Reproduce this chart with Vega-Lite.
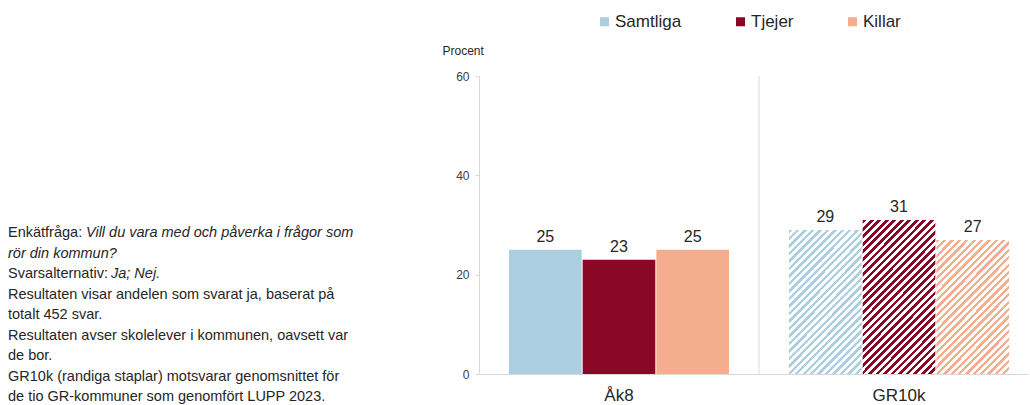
{
  "$schema": "https://vega.github.io/schema/vega-lite/v6.json",
  "background": "white",
  "padding": {"left": 8, "top": 13, "right": 0, "bottom": 0},
  "bounds": "flush",
  "spacing": 171,
  "config": {"view": {"stroke": null}, "font": "Liberation Sans"},
  "hconcat": [
    {
      "width": 300,
      "height": 298,
      "data": {"values": [
        {"rad": 1, "normal": "Enkätfråga:", "kursiv": "Vill du vara med och påverka i frågor som"},
        {"rad": 2, "normal": "", "kursiv": "rör din kommun?"},
        {"rad": 3, "normal": "Svarsalternativ:", "kursiv": "Ja; Nej."},
        {"rad": 4, "normal": "Resultaten visar andelen som svarat ja, baserat på", "kursiv": ""},
        {"rad": 5, "normal": "totalt 452 svar.", "kursiv": ""},
        {"rad": 6, "normal": "Resultaten avser skolelever i kommunen, oavsett var", "kursiv": ""},
        {"rad": 7, "normal": "de bor.", "kursiv": ""},
        {"rad": 8, "normal": "GR10k (randiga staplar) motsvarar genomsnittet för", "kursiv": ""},
        {"rad": 9, "normal": "de tio GR-kommuner som genomfört LUPP 2023.", "kursiv": ""}
      ]},
      "encoding": {
        "x": {"datum": 0, "type": "quantitative", "scale": {"domain": [0, 1]}, "axis": null},
        "y": {"field": "rad", "type": "ordinal", "scale": {"type": "point", "padding": 0, "range": [157, 321]}, "axis": null}
      },
      "layer": [
        {"mark": {"type": "text", "align": "left", "baseline": "middle", "fontSize": 14.5, "color": "#262626"},
         "encoding": {"text": {"field": "normal"}}},
        {"transform": [{"filter": "datum.rad === 1"}],
         "mark": {"type": "text", "align": "left", "baseline": "middle", "fontSize": 14.5, "fontStyle": "italic", "color": "#262626", "dx": 78},
         "encoding": {"text": {"field": "kursiv"}}},
        {"transform": [{"filter": "datum.rad === 2"}],
         "mark": {"type": "text", "align": "left", "baseline": "middle", "fontSize": 14.5, "fontStyle": "italic", "color": "#262626"},
         "encoding": {"text": {"field": "kursiv"}}},
        {"transform": [{"filter": "datum.rad === 3"}],
         "mark": {"type": "text", "align": "left", "baseline": "middle", "fontSize": 14.5, "fontStyle": "italic", "color": "#262626", "dx": 103},
         "encoding": {"text": {"field": "kursiv"}}}
      ]
    },
    {
      "width": 550,
      "height": 298,
      "data": {"values": [
        {"grupp": "Åk8", "serie": "Samtliga", "procent": 25},
        {"grupp": "Åk8", "serie": "Tjejer", "procent": 23},
        {"grupp": "Åk8", "serie": "Killar", "procent": 25},
        {"grupp": "GR10k", "serie": "Samtliga", "procent": 29},
        {"grupp": "GR10k", "serie": "Tjejer", "procent": 31},
        {"grupp": "GR10k", "serie": "Killar", "procent": 27}
      ]},
      "encoding": {
        "x": {"field": "grupp", "type": "nominal", "sort": ["Åk8", "GR10k"],
              "scale": {"paddingInner": 0.2143, "paddingOuter": 0.0893, "align": 0.6},
              "axis": {"title": null, "labelAngle": 0, "ticks": false, "tickSize": 0, "labelPadding": 13, "labelFontSize": 17, "labelColor": "#262626", "domainColor": "#d9d9d9", "grid": false}},
        "y": {"field": "procent", "type": "quantitative", "scale": {"domain": [0, 60], "nice": false},
              "axis": {"values": [0, 20, 40, 60], "title": "Procent", "titleAngle": 0, "titleAlign": "left", "titleBaseline": "middle", "titleX": -37, "titleY": -26, "titleFontSize": 12, "titleFontWeight": "normal", "titleColor": "#262626", "labelFontSize": 12, "labelColor": "#404040", "labelPadding": 6, "tickSize": 4, "tickColor": "#d9d9d9", "domainColor": "#d9d9d9", "grid": false}}
      },
      "layer": [
        {"transform": [{"filter": "datum.grupp === 'GR10k' && datum.serie === 'Samtliga'"}],
         "mark": {"type": "rule", "color": "#d9d9d9", "strokeWidth": 1, "xOffset": -30},
         "encoding": {"x": {"field": "grupp", "type": "nominal", "sort": ["Åk8", "GR10k"], "bandPosition": 0}, "y": {"datum": 60}, "y2": {"datum": 0}}},
        {"transform": [{"filter": "datum.grupp === 'Åk8'"}],
         "mark": {"type": "bar"},
         "encoding": {
           "xOffset": {"field": "serie", "type": "nominal", "sort": ["Samtliga", "Tjejer", "Killar"], "scale": {"paddingInner": 0.0137}},
           "color": {"field": "serie", "type": "nominal", "scale": {"domain": ["Samtliga", "Tjejer", "Killar"], "range": ["#abcfe1", "#8b0726", "#f5ad8f"]},
                     "legend": {"orient": "none", "legendX": 588, "legendY": -63, "direction": "horizontal", "title": null, "symbolType": "square", "symbolSize": 81, "symbolStrokeWidth": 0, "labelFontSize": 17, "labelColor": "#262626", "columnPadding": 50, "labelOffset": 2, "padding": 0}}
         }},
        {"transform": [{"filter": "datum.grupp === 'GR10k' && datum.serie === 'Samtliga'"}],
         "mark": {"type": "bar", "fill": {"gradient": "linear", "x1": 0, "y1": 0, "x2": 0.6078, "y2": 1.1989, "stops": [
{"offset":0,"color":"#abcfe1"},{"offset":0.0155,"color":"#abcfe1"},{"offset":0.0155,"color":"#ffffff"},{"offset":0.0345,"color":"#ffffff"},
{"offset":0.0345,"color":"#abcfe1"},{"offset":0.05,"color":"#abcfe1"},{"offset":0.05,"color":"#ffffff"},{"offset":0.069,"color":"#ffffff"},
{"offset":0.069,"color":"#abcfe1"},{"offset":0.0845,"color":"#abcfe1"},{"offset":0.0845,"color":"#ffffff"},{"offset":0.1034,"color":"#ffffff"},
{"offset":0.1034,"color":"#abcfe1"},{"offset":0.119,"color":"#abcfe1"},{"offset":0.119,"color":"#ffffff"},{"offset":0.1379,"color":"#ffffff"},
{"offset":0.1379,"color":"#abcfe1"},{"offset":0.1534,"color":"#abcfe1"},{"offset":0.1534,"color":"#ffffff"},{"offset":0.1724,"color":"#ffffff"},
{"offset":0.1724,"color":"#abcfe1"},{"offset":0.1879,"color":"#abcfe1"},{"offset":0.1879,"color":"#ffffff"},{"offset":0.2069,"color":"#ffffff"},
{"offset":0.2069,"color":"#abcfe1"},{"offset":0.2224,"color":"#abcfe1"},{"offset":0.2224,"color":"#ffffff"},{"offset":0.2414,"color":"#ffffff"},
{"offset":0.2414,"color":"#abcfe1"},{"offset":0.2569,"color":"#abcfe1"},{"offset":0.2569,"color":"#ffffff"},{"offset":0.2759,"color":"#ffffff"},
{"offset":0.2759,"color":"#abcfe1"},{"offset":0.2914,"color":"#abcfe1"},{"offset":0.2914,"color":"#ffffff"},{"offset":0.3103,"color":"#ffffff"},
{"offset":0.3103,"color":"#abcfe1"},{"offset":0.3259,"color":"#abcfe1"},{"offset":0.3259,"color":"#ffffff"},{"offset":0.3448,"color":"#ffffff"},
{"offset":0.3448,"color":"#abcfe1"},{"offset":0.3603,"color":"#abcfe1"},{"offset":0.3603,"color":"#ffffff"},{"offset":0.3793,"color":"#ffffff"},
{"offset":0.3793,"color":"#abcfe1"},{"offset":0.3948,"color":"#abcfe1"},{"offset":0.3948,"color":"#ffffff"},{"offset":0.4138,"color":"#ffffff"},
{"offset":0.4138,"color":"#abcfe1"},{"offset":0.4293,"color":"#abcfe1"},{"offset":0.4293,"color":"#ffffff"},{"offset":0.4483,"color":"#ffffff"},
{"offset":0.4483,"color":"#abcfe1"},{"offset":0.4638,"color":"#abcfe1"},{"offset":0.4638,"color":"#ffffff"},{"offset":0.4828,"color":"#ffffff"},
{"offset":0.4828,"color":"#abcfe1"},{"offset":0.4983,"color":"#abcfe1"},{"offset":0.4983,"color":"#ffffff"},{"offset":0.5172,"color":"#ffffff"},
{"offset":0.5172,"color":"#abcfe1"},{"offset":0.5328,"color":"#abcfe1"},{"offset":0.5328,"color":"#ffffff"},{"offset":0.5517,"color":"#ffffff"},
{"offset":0.5517,"color":"#abcfe1"},{"offset":0.5672,"color":"#abcfe1"},{"offset":0.5672,"color":"#ffffff"},{"offset":0.5862,"color":"#ffffff"},
{"offset":0.5862,"color":"#abcfe1"},{"offset":0.6017,"color":"#abcfe1"},{"offset":0.6017,"color":"#ffffff"},{"offset":0.6207,"color":"#ffffff"},
{"offset":0.6207,"color":"#abcfe1"},{"offset":0.6362,"color":"#abcfe1"},{"offset":0.6362,"color":"#ffffff"},{"offset":0.6552,"color":"#ffffff"},
{"offset":0.6552,"color":"#abcfe1"},{"offset":0.6707,"color":"#abcfe1"},{"offset":0.6707,"color":"#ffffff"},{"offset":0.6897,"color":"#ffffff"},
{"offset":0.6897,"color":"#abcfe1"},{"offset":0.7052,"color":"#abcfe1"},{"offset":0.7052,"color":"#ffffff"},{"offset":0.7241,"color":"#ffffff"},
{"offset":0.7241,"color":"#abcfe1"},{"offset":0.7397,"color":"#abcfe1"},{"offset":0.7397,"color":"#ffffff"},{"offset":0.7586,"color":"#ffffff"},
{"offset":0.7586,"color":"#abcfe1"},{"offset":0.7741,"color":"#abcfe1"},{"offset":0.7741,"color":"#ffffff"},{"offset":0.7931,"color":"#ffffff"},
{"offset":0.7931,"color":"#abcfe1"},{"offset":0.8086,"color":"#abcfe1"},{"offset":0.8086,"color":"#ffffff"},{"offset":0.8276,"color":"#ffffff"},
{"offset":0.8276,"color":"#abcfe1"},{"offset":0.8431,"color":"#abcfe1"},{"offset":0.8431,"color":"#ffffff"},{"offset":0.8621,"color":"#ffffff"},
{"offset":0.8621,"color":"#abcfe1"},{"offset":0.8776,"color":"#abcfe1"},{"offset":0.8776,"color":"#ffffff"},{"offset":0.8966,"color":"#ffffff"},
{"offset":0.8966,"color":"#abcfe1"},{"offset":0.9121,"color":"#abcfe1"},{"offset":0.9121,"color":"#ffffff"},{"offset":0.931,"color":"#ffffff"},
{"offset":0.931,"color":"#abcfe1"},{"offset":0.9466,"color":"#abcfe1"},{"offset":0.9466,"color":"#ffffff"},{"offset":0.9655,"color":"#ffffff"},
{"offset":0.9655,"color":"#abcfe1"},{"offset":0.981,"color":"#abcfe1"},{"offset":0.981,"color":"#ffffff"},{"offset":1,"color":"#ffffff"}
         ]}},
         "encoding": {"xOffset": {"field": "serie", "type": "nominal", "sort": ["Samtliga", "Tjejer", "Killar"], "scale": {"paddingInner": 0.0137}}}},
        {"transform": [{"filter": "datum.grupp === 'GR10k' && datum.serie === 'Tjejer'"}],
         "mark": {"type": "bar", "fill": {"gradient": "linear", "x1": 0, "y1": 0, "x2": 0.5705, "y2": 1.2036, "stops": [
{"offset":0,"color":"#8b0726"},{"offset":0.0167,"color":"#8b0726"},{"offset":0.0167,"color":"#ffffff"},{"offset":0.0333,"color":"#ffffff"},
{"offset":0.0333,"color":"#8b0726"},{"offset":0.05,"color":"#8b0726"},{"offset":0.05,"color":"#ffffff"},{"offset":0.0667,"color":"#ffffff"},
{"offset":0.0667,"color":"#8b0726"},{"offset":0.0833,"color":"#8b0726"},{"offset":0.0833,"color":"#ffffff"},{"offset":0.1,"color":"#ffffff"},
{"offset":0.1,"color":"#8b0726"},{"offset":0.1167,"color":"#8b0726"},{"offset":0.1167,"color":"#ffffff"},{"offset":0.1333,"color":"#ffffff"},
{"offset":0.1333,"color":"#8b0726"},{"offset":0.15,"color":"#8b0726"},{"offset":0.15,"color":"#ffffff"},{"offset":0.1667,"color":"#ffffff"},
{"offset":0.1667,"color":"#8b0726"},{"offset":0.1833,"color":"#8b0726"},{"offset":0.1833,"color":"#ffffff"},{"offset":0.2,"color":"#ffffff"},
{"offset":0.2,"color":"#8b0726"},{"offset":0.2167,"color":"#8b0726"},{"offset":0.2167,"color":"#ffffff"},{"offset":0.2333,"color":"#ffffff"},
{"offset":0.2333,"color":"#8b0726"},{"offset":0.25,"color":"#8b0726"},{"offset":0.25,"color":"#ffffff"},{"offset":0.2667,"color":"#ffffff"},
{"offset":0.2667,"color":"#8b0726"},{"offset":0.2833,"color":"#8b0726"},{"offset":0.2833,"color":"#ffffff"},{"offset":0.3,"color":"#ffffff"},
{"offset":0.3,"color":"#8b0726"},{"offset":0.3167,"color":"#8b0726"},{"offset":0.3167,"color":"#ffffff"},{"offset":0.3333,"color":"#ffffff"},
{"offset":0.3333,"color":"#8b0726"},{"offset":0.35,"color":"#8b0726"},{"offset":0.35,"color":"#ffffff"},{"offset":0.3667,"color":"#ffffff"},
{"offset":0.3667,"color":"#8b0726"},{"offset":0.3833,"color":"#8b0726"},{"offset":0.3833,"color":"#ffffff"},{"offset":0.4,"color":"#ffffff"},
{"offset":0.4,"color":"#8b0726"},{"offset":0.4167,"color":"#8b0726"},{"offset":0.4167,"color":"#ffffff"},{"offset":0.4333,"color":"#ffffff"},
{"offset":0.4333,"color":"#8b0726"},{"offset":0.45,"color":"#8b0726"},{"offset":0.45,"color":"#ffffff"},{"offset":0.4667,"color":"#ffffff"},
{"offset":0.4667,"color":"#8b0726"},{"offset":0.4833,"color":"#8b0726"},{"offset":0.4833,"color":"#ffffff"},{"offset":0.5,"color":"#ffffff"},
{"offset":0.5,"color":"#8b0726"},{"offset":0.5167,"color":"#8b0726"},{"offset":0.5167,"color":"#ffffff"},{"offset":0.5333,"color":"#ffffff"},
{"offset":0.5333,"color":"#8b0726"},{"offset":0.55,"color":"#8b0726"},{"offset":0.55,"color":"#ffffff"},{"offset":0.5667,"color":"#ffffff"},
{"offset":0.5667,"color":"#8b0726"},{"offset":0.5833,"color":"#8b0726"},{"offset":0.5833,"color":"#ffffff"},{"offset":0.6,"color":"#ffffff"},
{"offset":0.6,"color":"#8b0726"},{"offset":0.6167,"color":"#8b0726"},{"offset":0.6167,"color":"#ffffff"},{"offset":0.6333,"color":"#ffffff"},
{"offset":0.6333,"color":"#8b0726"},{"offset":0.65,"color":"#8b0726"},{"offset":0.65,"color":"#ffffff"},{"offset":0.6667,"color":"#ffffff"},
{"offset":0.6667,"color":"#8b0726"},{"offset":0.6833,"color":"#8b0726"},{"offset":0.6833,"color":"#ffffff"},{"offset":0.7,"color":"#ffffff"},
{"offset":0.7,"color":"#8b0726"},{"offset":0.7167,"color":"#8b0726"},{"offset":0.7167,"color":"#ffffff"},{"offset":0.7333,"color":"#ffffff"},
{"offset":0.7333,"color":"#8b0726"},{"offset":0.75,"color":"#8b0726"},{"offset":0.75,"color":"#ffffff"},{"offset":0.7667,"color":"#ffffff"},
{"offset":0.7667,"color":"#8b0726"},{"offset":0.7833,"color":"#8b0726"},{"offset":0.7833,"color":"#ffffff"},{"offset":0.8,"color":"#ffffff"},
{"offset":0.8,"color":"#8b0726"},{"offset":0.8167,"color":"#8b0726"},{"offset":0.8167,"color":"#ffffff"},{"offset":0.8333,"color":"#ffffff"},
{"offset":0.8333,"color":"#8b0726"},{"offset":0.85,"color":"#8b0726"},{"offset":0.85,"color":"#ffffff"},{"offset":0.8667,"color":"#ffffff"},
{"offset":0.8667,"color":"#8b0726"},{"offset":0.8833,"color":"#8b0726"},{"offset":0.8833,"color":"#ffffff"},{"offset":0.9,"color":"#ffffff"},
{"offset":0.9,"color":"#8b0726"},{"offset":0.9167,"color":"#8b0726"},{"offset":0.9167,"color":"#ffffff"},{"offset":0.9333,"color":"#ffffff"},
{"offset":0.9333,"color":"#8b0726"},{"offset":0.95,"color":"#8b0726"},{"offset":0.95,"color":"#ffffff"},{"offset":0.9667,"color":"#ffffff"},
{"offset":0.9667,"color":"#8b0726"},{"offset":0.9833,"color":"#8b0726"},{"offset":0.9833,"color":"#ffffff"},{"offset":1,"color":"#ffffff"}
         ]}},
         "encoding": {"xOffset": {"field": "serie", "type": "nominal", "sort": ["Samtliga", "Tjejer", "Killar"], "scale": {"paddingInner": 0.0137}}}},
        {"transform": [{"filter": "datum.grupp === 'GR10k' && datum.serie === 'Killar'"}],
         "mark": {"type": "bar", "fill": {"gradient": "linear", "x1": 0, "y1": 0, "x2": 0.649, "y2": 1.1913, "stops": [
{"offset":0,"color":"#f5ad8f"},{"offset":0.0161,"color":"#f5ad8f"},{"offset":0.0161,"color":"#ffffff"},{"offset":0.0357,"color":"#ffffff"},
{"offset":0.0357,"color":"#f5ad8f"},{"offset":0.0518,"color":"#f5ad8f"},{"offset":0.0518,"color":"#ffffff"},{"offset":0.0714,"color":"#ffffff"},
{"offset":0.0714,"color":"#f5ad8f"},{"offset":0.0875,"color":"#f5ad8f"},{"offset":0.0875,"color":"#ffffff"},{"offset":0.1071,"color":"#ffffff"},
{"offset":0.1071,"color":"#f5ad8f"},{"offset":0.1232,"color":"#f5ad8f"},{"offset":0.1232,"color":"#ffffff"},{"offset":0.1429,"color":"#ffffff"},
{"offset":0.1429,"color":"#f5ad8f"},{"offset":0.1589,"color":"#f5ad8f"},{"offset":0.1589,"color":"#ffffff"},{"offset":0.1786,"color":"#ffffff"},
{"offset":0.1786,"color":"#f5ad8f"},{"offset":0.1946,"color":"#f5ad8f"},{"offset":0.1946,"color":"#ffffff"},{"offset":0.2143,"color":"#ffffff"},
{"offset":0.2143,"color":"#f5ad8f"},{"offset":0.2304,"color":"#f5ad8f"},{"offset":0.2304,"color":"#ffffff"},{"offset":0.25,"color":"#ffffff"},
{"offset":0.25,"color":"#f5ad8f"},{"offset":0.2661,"color":"#f5ad8f"},{"offset":0.2661,"color":"#ffffff"},{"offset":0.2857,"color":"#ffffff"},
{"offset":0.2857,"color":"#f5ad8f"},{"offset":0.3018,"color":"#f5ad8f"},{"offset":0.3018,"color":"#ffffff"},{"offset":0.3214,"color":"#ffffff"},
{"offset":0.3214,"color":"#f5ad8f"},{"offset":0.3375,"color":"#f5ad8f"},{"offset":0.3375,"color":"#ffffff"},{"offset":0.3571,"color":"#ffffff"},
{"offset":0.3571,"color":"#f5ad8f"},{"offset":0.3732,"color":"#f5ad8f"},{"offset":0.3732,"color":"#ffffff"},{"offset":0.3929,"color":"#ffffff"},
{"offset":0.3929,"color":"#f5ad8f"},{"offset":0.4089,"color":"#f5ad8f"},{"offset":0.4089,"color":"#ffffff"},{"offset":0.4286,"color":"#ffffff"},
{"offset":0.4286,"color":"#f5ad8f"},{"offset":0.4446,"color":"#f5ad8f"},{"offset":0.4446,"color":"#ffffff"},{"offset":0.4643,"color":"#ffffff"},
{"offset":0.4643,"color":"#f5ad8f"},{"offset":0.4804,"color":"#f5ad8f"},{"offset":0.4804,"color":"#ffffff"},{"offset":0.5,"color":"#ffffff"},
{"offset":0.5,"color":"#f5ad8f"},{"offset":0.5161,"color":"#f5ad8f"},{"offset":0.5161,"color":"#ffffff"},{"offset":0.5357,"color":"#ffffff"},
{"offset":0.5357,"color":"#f5ad8f"},{"offset":0.5518,"color":"#f5ad8f"},{"offset":0.5518,"color":"#ffffff"},{"offset":0.5714,"color":"#ffffff"},
{"offset":0.5714,"color":"#f5ad8f"},{"offset":0.5875,"color":"#f5ad8f"},{"offset":0.5875,"color":"#ffffff"},{"offset":0.6071,"color":"#ffffff"},
{"offset":0.6071,"color":"#f5ad8f"},{"offset":0.6232,"color":"#f5ad8f"},{"offset":0.6232,"color":"#ffffff"},{"offset":0.6429,"color":"#ffffff"},
{"offset":0.6429,"color":"#f5ad8f"},{"offset":0.6589,"color":"#f5ad8f"},{"offset":0.6589,"color":"#ffffff"},{"offset":0.6786,"color":"#ffffff"},
{"offset":0.6786,"color":"#f5ad8f"},{"offset":0.6946,"color":"#f5ad8f"},{"offset":0.6946,"color":"#ffffff"},{"offset":0.7143,"color":"#ffffff"},
{"offset":0.7143,"color":"#f5ad8f"},{"offset":0.7304,"color":"#f5ad8f"},{"offset":0.7304,"color":"#ffffff"},{"offset":0.75,"color":"#ffffff"},
{"offset":0.75,"color":"#f5ad8f"},{"offset":0.7661,"color":"#f5ad8f"},{"offset":0.7661,"color":"#ffffff"},{"offset":0.7857,"color":"#ffffff"},
{"offset":0.7857,"color":"#f5ad8f"},{"offset":0.8018,"color":"#f5ad8f"},{"offset":0.8018,"color":"#ffffff"},{"offset":0.8214,"color":"#ffffff"},
{"offset":0.8214,"color":"#f5ad8f"},{"offset":0.8375,"color":"#f5ad8f"},{"offset":0.8375,"color":"#ffffff"},{"offset":0.8571,"color":"#ffffff"},
{"offset":0.8571,"color":"#f5ad8f"},{"offset":0.8732,"color":"#f5ad8f"},{"offset":0.8732,"color":"#ffffff"},{"offset":0.8929,"color":"#ffffff"},
{"offset":0.8929,"color":"#f5ad8f"},{"offset":0.9089,"color":"#f5ad8f"},{"offset":0.9089,"color":"#ffffff"},{"offset":0.9286,"color":"#ffffff"},
{"offset":0.9286,"color":"#f5ad8f"},{"offset":0.9446,"color":"#f5ad8f"},{"offset":0.9446,"color":"#ffffff"},{"offset":0.9643,"color":"#ffffff"},
{"offset":0.9643,"color":"#f5ad8f"},{"offset":0.9804,"color":"#f5ad8f"},{"offset":0.9804,"color":"#ffffff"},{"offset":1,"color":"#ffffff"}
         ]}},
         "encoding": {"xOffset": {"field": "serie", "type": "nominal", "sort": ["Samtliga", "Tjejer", "Killar"], "scale": {"paddingInner": 0.0137}}}},
        {"mark": {"type": "text", "baseline": "alphabetic", "dy": -8, "fontSize": 16, "color": "#262626"},
         "encoding": {
           "xOffset": {"field": "serie", "type": "nominal", "sort": ["Samtliga", "Tjejer", "Killar"], "scale": {"paddingInner": 0.0137}},
           "text": {"field": "procent", "type": "quantitative"}
         }}
      ]
    }
  ]
}
